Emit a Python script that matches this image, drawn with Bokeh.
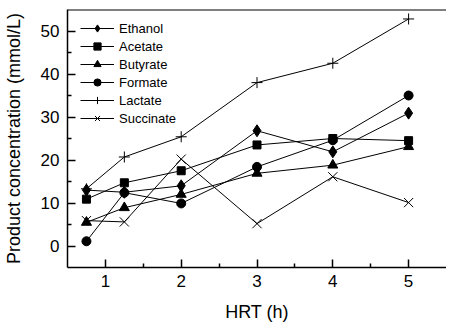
from bokeh.plotting import figure
from bokeh.models import FixedTicker, Span, Legend, LegendItem, Range1d
from bokeh.embed import file_html
from bokeh.resources import INLINE

hrt = [0.75, 1.25, 2, 3, 4, 5]
ethanol = [13.0, 12.5, 14.0, 26.8, 21.9, 30.9]
acetate = [10.9, 14.7, 17.5, 23.5, 25.0, 24.5]
butyrate = [5.5, 8.9, 12.0, 16.9, 18.8, 23.1]
formate = [1.1, 12.4, 9.9, 18.4, 24.6, 35.0]
lactate = [13.3, 20.7, 25.4, 38.0, 42.5, 52.8]
succinate = [5.9, 5.6, 20.2, 5.2, 16.1, 10.1]

x_ticks = [1, 2, 3, 4, 5]
x_minor = [1.5, 2.5, 3.5, 4.5]
y_ticks = [0, 10, 20, 30, 40, 50]
y_minor = [5, 15, 25, 35, 45]

FONT = "Liberation Sans"

p = figure(width=446, height=324, output_backend="svg", toolbar_location=None,
           x_range=Range1d(0.5, 5.5), y_range=Range1d(-5, 55),
           min_border_left=60, min_border_right=0, min_border_top=9, min_border_bottom=10)
p.outline_line_color = None
p.grid.visible = False
p.background_fill_color = "white"

series = [
    ("Ethanol", ethanol, "diamond", 12),
    ("Acetate", acetate, "square", 8),
    ("Butyrate", butyrate, "triangle", 10),
    ("Formate", formate, "circle", 9),
    ("Lactate", lactate, "cross", 11),
    ("Succinate", succinate, "x", 13),
]
items = []
for name, ys, marker, size in series:
    ln = p.line(hrt, ys, line_color="black", line_width=1)
    sc = p.scatter(hrt, ys, marker=marker, size=size, fill_color="black",
                   line_color="black", line_width=1)
    items.append(LegendItem(label=name, renderers=[ln, sc]))

legend = Legend(items=items, location=(13, 140), margin=0, padding=0,
                border_line_color=None, background_fill_alpha=0,
                glyph_width=34, glyph_height=18, label_height=18, spacing=0,
                label_standoff=5, label_text_font=FONT, label_text_font_size="13px",
                label_text_color="black")
p.add_layout(legend, "center")

for ax in [p.xaxis[0], p.yaxis[0]]:
    ax.axis_line_width = 1.5
    ax.axis_line_color = "black"
    ax.major_tick_in = 8
    ax.major_tick_out = 0
    ax.minor_tick_in = 4
    ax.minor_tick_out = 0
    ax.major_tick_line_width = 1.5
    ax.minor_tick_line_width = 1.5
    ax.major_tick_line_color = "black"
    ax.minor_tick_line_color = "black"
    ax.major_label_text_font = FONT
    ax.major_label_text_font_size = "17px"
    ax.major_label_text_color = "black"
    ax.axis_label_text_font = FONT
    ax.axis_label_text_font_size = "18px"
    ax.axis_label_text_font_style = "normal"
    ax.axis_label_text_color = "black"

p.xaxis.ticker = FixedTicker(ticks=x_ticks, minor_ticks=x_minor)
p.yaxis.ticker = FixedTicker(ticks=y_ticks, minor_ticks=y_minor)
p.xaxis.axis_label = "HRT (h)"
p.yaxis.axis_label = "Product concentration (mmol/L)"
p.xaxis.major_label_standoff = 7
p.xaxis.axis_label_standoff = 12
p.yaxis.major_label_standoff = 8
p.yaxis.axis_label_standoff = 14

p.add_layout(Span(location=55, dimension="width", line_color="black", line_width=2))

open("out.html", "w").write(file_html(p, INLINE))
